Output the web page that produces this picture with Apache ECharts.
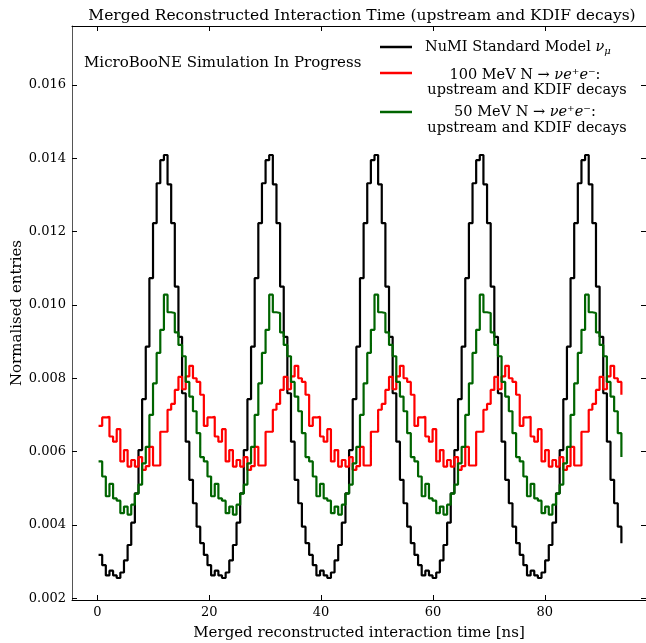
<!DOCTYPE html>
<html>
<head>
<meta charset="utf-8">
<script src="https://cdn.jsdelivr.net/npm/echarts@6/dist/echarts.min.js"></script>
<style>
  html, body { margin: 0; padding: 0; background: #fff; }
  #chart { width: 646px; height: 643px; }
</style>
</head>
<body>
<div id="chart"></div>
<script>
// histogram binning (ns): one NuMI bunch spacing is 29 bins
const binStart = 0.2;
const binWidth = 18.83 / 29;

// normalised entries per bin, 145 bins (5 bunches)
const numiSM = [
  0.00318, 0.00290, 0.00262, 0.00275, 0.00262, 0.00255, 0.00270, 0.00303, 0.00345, 0.00406, 0.00486, 0.00604, 0.00743, 0.00886, 0.01073, 0.01223, 0.01332, 0.01395, 0.01409, 0.01329, 0.01223, 0.01050, 0.00913, 0.00759, 0.00627, 0.00523, 0.00459, 0.00395, 0.00350,
  0.00318, 0.00290, 0.00262, 0.00275, 0.00262, 0.00255, 0.00270, 0.00303, 0.00345, 0.00406, 0.00486, 0.00604, 0.00743, 0.00886, 0.01073, 0.01223, 0.01332, 0.01395, 0.01409, 0.01329, 0.01223, 0.01050, 0.00913, 0.00759, 0.00627, 0.00523, 0.00459, 0.00395, 0.00350,
  0.00318, 0.00290, 0.00262, 0.00275, 0.00262, 0.00255, 0.00270, 0.00303, 0.00345, 0.00406, 0.00486, 0.00604, 0.00743, 0.00886, 0.01073, 0.01223, 0.01332, 0.01395, 0.01409, 0.01329, 0.01223, 0.01050, 0.00913, 0.00759, 0.00627, 0.00523, 0.00459, 0.00395, 0.00350,
  0.00318, 0.00290, 0.00262, 0.00275, 0.00262, 0.00255, 0.00270, 0.00303, 0.00345, 0.00406, 0.00486, 0.00604, 0.00743, 0.00886, 0.01073, 0.01223, 0.01332, 0.01395, 0.01409, 0.01329, 0.01223, 0.01050, 0.00913, 0.00759, 0.00627, 0.00523, 0.00459, 0.00395, 0.00350,
  0.00318, 0.00290, 0.00262, 0.00275, 0.00262, 0.00255, 0.00270, 0.00303, 0.00345, 0.00406, 0.00486, 0.00604, 0.00743, 0.00886, 0.01073, 0.01223, 0.01332, 0.01395, 0.01409, 0.01329, 0.01223, 0.01050, 0.00913, 0.00759, 0.00627, 0.00523, 0.00459, 0.00395, 0.00350
];
const hnl100 = [
  0.00670, 0.00693, 0.00695, 0.00641, 0.00627, 0.00661, 0.00573, 0.00604, 0.00559, 0.00577, 0.00559, 0.00585, 0.00550, 0.00560, 0.00613, 0.00562, 0.00562, 0.00654, 0.00654, 0.00714, 0.00730, 0.00768, 0.00804, 0.00770, 0.00805, 0.00834, 0.00800, 0.00790, 0.00755,
  0.00670, 0.00693, 0.00695, 0.00641, 0.00627, 0.00661, 0.00573, 0.00604, 0.00559, 0.00577, 0.00559, 0.00585, 0.00550, 0.00560, 0.00613, 0.00562, 0.00562, 0.00654, 0.00654, 0.00714, 0.00730, 0.00768, 0.00804, 0.00770, 0.00805, 0.00834, 0.00800, 0.00790, 0.00755,
  0.00670, 0.00693, 0.00695, 0.00641, 0.00627, 0.00661, 0.00573, 0.00604, 0.00559, 0.00577, 0.00559, 0.00585, 0.00550, 0.00560, 0.00613, 0.00562, 0.00562, 0.00654, 0.00654, 0.00714, 0.00730, 0.00768, 0.00804, 0.00770, 0.00805, 0.00834, 0.00800, 0.00790, 0.00755,
  0.00670, 0.00693, 0.00695, 0.00641, 0.00627, 0.00661, 0.00573, 0.00604, 0.00559, 0.00577, 0.00559, 0.00585, 0.00550, 0.00560, 0.00613, 0.00562, 0.00562, 0.00654, 0.00654, 0.00714, 0.00730, 0.00768, 0.00804, 0.00770, 0.00805, 0.00834, 0.00800, 0.00790, 0.00755,
  0.00670, 0.00693, 0.00695, 0.00641, 0.00627, 0.00661, 0.00573, 0.00604, 0.00559, 0.00577, 0.00559, 0.00585, 0.00550, 0.00560, 0.00613, 0.00562, 0.00562, 0.00654, 0.00654, 0.00714, 0.00730, 0.00768, 0.00804, 0.00770, 0.00805, 0.00834, 0.00800, 0.00790, 0.00755
];
const hnl50 = [
  0.00573, 0.00532, 0.00478, 0.00512, 0.00472, 0.00466, 0.00432, 0.00450, 0.00428, 0.00455, 0.00485, 0.00510, 0.00568, 0.00613, 0.00700, 0.00786, 0.00869, 0.00932, 0.01028, 0.00980, 0.00978, 0.00925, 0.00891, 0.00860, 0.00790, 0.00750, 0.00710, 0.00650, 0.00585,
  0.00573, 0.00532, 0.00478, 0.00512, 0.00472, 0.00466, 0.00432, 0.00450, 0.00428, 0.00455, 0.00485, 0.00510, 0.00568, 0.00613, 0.00700, 0.00786, 0.00869, 0.00932, 0.01028, 0.00980, 0.00978, 0.00925, 0.00891, 0.00860, 0.00790, 0.00750, 0.00710, 0.00650, 0.00585,
  0.00573, 0.00532, 0.00478, 0.00512, 0.00472, 0.00466, 0.00432, 0.00450, 0.00428, 0.00455, 0.00485, 0.00510, 0.00568, 0.00613, 0.00700, 0.00786, 0.00869, 0.00932, 0.01028, 0.00980, 0.00978, 0.00925, 0.00891, 0.00860, 0.00790, 0.00750, 0.00710, 0.00650, 0.00585,
  0.00573, 0.00532, 0.00478, 0.00512, 0.00472, 0.00466, 0.00432, 0.00450, 0.00428, 0.00455, 0.00485, 0.00510, 0.00568, 0.00613, 0.00700, 0.00786, 0.00869, 0.00932, 0.01028, 0.00980, 0.00978, 0.00925, 0.00891, 0.00860, 0.00790, 0.00750, 0.00710, 0.00650, 0.00585,
  0.00573, 0.00532, 0.00478, 0.00512, 0.00472, 0.00466, 0.00432, 0.00450, 0.00428, 0.00455, 0.00485, 0.00510, 0.00568, 0.00613, 0.00700, 0.00786, 0.00869, 0.00932, 0.01028, 0.00980, 0.00978, 0.00925, 0.00891, 0.00860, 0.00790, 0.00750, 0.00710, 0.00650, 0.00585
];

const seriesNames = ['NuMI Standard Model', '100 MeV HNL', '50 MeV HNL'];
const seriesColors = ['#000000', '#ff0000', '#006400'];
const xTicks = [0, 20, 40, 60, 80];
const yTicks = [0.002, 0.004, 0.006, 0.008, 0.010, 0.012, 0.014, 0.016];

const FONT = '"DejaVu Serif", "Liberation Serif", serif';

const chart = echarts.init(document.getElementById('chart'));

// left bin edge -> value, drawn as a 'post' step like matplotlib
const toSteps = vals => vals.map((v, i) => [binStart + i * binWidth, v]);

const axisCommon = {
  type: 'value',
  splitLine: { show: false },
  axisLine: { onZero: false, lineStyle: { color: '#000', width: 1 } }
};

// legend drawn by hand so the two-line labels sit like the original
const legendLines = [
  { y: 47, text: [{ t: 'NuMI Standard Model {i|ν}{sub|μ}', x: 425, align: 'left', dy: 0 }] },
  { y: 73, text: [
    { t: '100 MeV N → {i|νe⁺e⁻}:', x: 525, align: 'center', dy: 2 },
    { t: 'upstream and KDIF decays', x: 527, align: 'center', dy: 17 }
  ] },
  { y: 112, text: [
    { t: '50 MeV N → {i|νe⁺e⁻}:', x: 525, align: 'center', dy: 0 },
    { t: 'upstream and KDIF decays', x: 527, align: 'center', dy: 16 }
  ] }
];
const graphics = [];
legendLines.forEach((item, k) => {
  graphics.push({
    type: 'line',
    shape: { x1: 380, y1: item.y, x2: 412, y2: item.y },
    style: { stroke: seriesColors[k], lineWidth: 2.5 }
  });
  item.text.forEach(tx => {
    graphics.push({
      type: 'text',
      x: tx.x,
      y: item.y + tx.dy,
      style: {
        text: tx.t,
        fill: '#000',
        font: '14.5px ' + FONT,
        align: tx.align,
        verticalAlign: 'middle',
        rich: {
          i: { fontStyle: 'italic', fontSize: 14.5, fontFamily: FONT },
          sub: { fontStyle: 'italic', fontSize: 10, fontFamily: FONT, verticalAlign: 'bottom', padding: [8, 0, 0, 0] }
        }
      }
    });
  });
});
graphics.push({
  type: 'text',
  x: 84,
  y: 63,
  style: {
    text: 'MicroBooNE Simulation In Progress',
    fill: '#000',
    font: '15px ' + FONT,
    align: 'left',
    verticalAlign: 'middle'
  }
});

chart.setOption({
  animation: false,
  backgroundColor: '#fff',
  title: {
    text: 'Merged Reconstructed Interaction Time (upstream and KDIF decays)',
    left: 357,
    top: 3,
    textAlign: 'center',
    textStyle: { fontFamily: FONT, fontSize: 15.5, fontWeight: 'normal', color: '#000' }
  },
  grid: { left: 72, right: 0, top: 26, bottom: 43, containLabel: false, outerBoundsMode: 'none' },
  xAxis: [
    Object.assign({}, axisCommon, {
      min: -4.55, max: 98.1, position: 'bottom',
      axisTick: { inside: true, length: 5, customValues: xTicks, lineStyle: { color: '#000' } },
      axisLabel: { customValues: xTicks, color: '#000', fontFamily: FONT, fontSize: 13, margin: 6 },
      name: 'Merged reconstructed interaction time [ns]',
      nameLocation: 'middle', nameGap: 26, nameMoveOverlap: false,
      nameTextStyle: { fontFamily: FONT, fontSize: 15, color: '#000' }
    }),
    Object.assign({}, axisCommon, {
      min: -4.55, max: 98.1, position: 'top',
      axisTick: { inside: true, length: 5, customValues: xTicks, lineStyle: { color: '#000' } },
      axisLabel: { show: false }
    })
  ],
  yAxis: [
    Object.assign({}, axisCommon, {
      min: 0.00195, max: 0.01761, position: 'left',
      axisLine: { onZero: false, lineStyle: { color: '#555', width: 1 } },
      axisTick: { inside: true, length: 5, customValues: yTicks, lineStyle: { color: '#000' } },
      axisLabel: { customValues: yTicks, color: '#000', fontFamily: FONT, fontSize: 13, margin: 6,
        formatter: v => v.toFixed(3) },
      name: 'Normalised entries',
      nameLocation: 'middle', nameGap: 47, nameMoveOverlap: false,
      nameTextStyle: { fontFamily: FONT, fontSize: 15, color: '#000' }
    }),
    Object.assign({}, axisCommon, {
      min: 0.00195, max: 0.01761, position: 'right',
      axisTick: { inside: true, length: 5, customValues: yTicks, lineStyle: { color: '#000' } },
      axisLabel: { show: false }
    })
  ],
  series: [numiSM, hnl100, hnl50].map((vals, k) => ({
    name: seriesNames[k],
    type: 'line',
    step: 'end',
    data: toSteps(vals),
    showSymbol: false,
    silent: true,
    lineStyle: { color: seriesColors[k], width: 2.2 },
    itemStyle: { color: seriesColors[k] }
  })),
  graphic: graphics
});
</script>
</body>
</html>
